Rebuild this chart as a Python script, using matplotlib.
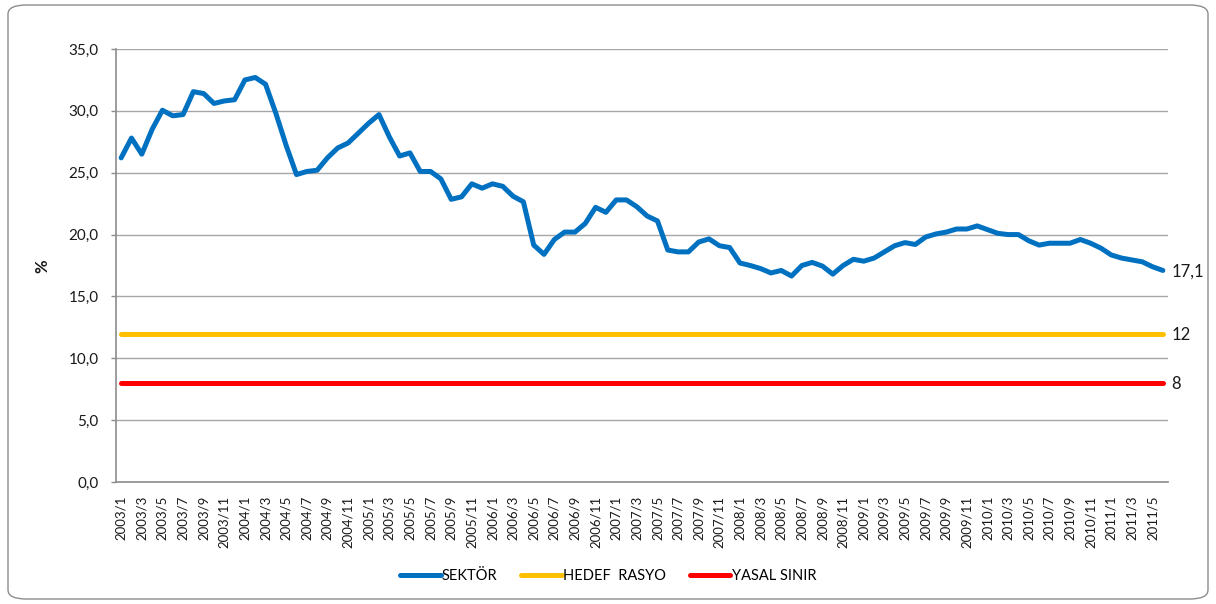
import matplotlib
matplotlib.use("Agg")
import matplotlib.pyplot as plt
from matplotlib.patches import FancyBboxPatch
import numpy as np

plt.rcParams['font.family'] = ['Lato', 'DejaVu Sans']

# Monthly categories 2003/1 .. 2011/6
months = [f"{y}/{m}" for y in range(2003, 2012) for m in range(1, 13)][:102]

sektor = [26.2, 27.8, 26.5, 28.5, 30.05, 29.6, 29.7, 31.55, 31.4, 30.6, 30.8, 30.9,
          32.5, 32.7, 32.15, 29.8, 27.2, 24.85, 25.1, 25.2, 26.2, 27.0, 27.4, 28.2,
          29.0, 29.7, 27.9, 26.35, 26.6, 25.1, 25.1, 24.5, 22.85, 23.05, 24.1, 23.75,
          24.1, 23.9, 23.1, 22.65, 19.15, 18.4, 19.6, 20.2, 20.2, 20.9, 22.2, 21.8,
          22.8, 22.8, 22.25, 21.5, 21.1, 18.75, 18.6, 18.6, 19.4, 19.65, 19.1, 18.95,
          17.7, 17.5, 17.25, 16.9, 17.1, 16.65, 17.5, 17.75, 17.45, 16.8, 17.5, 18.0,
          17.85, 18.1, 18.6, 19.1, 19.35, 19.2, 19.8, 20.05, 20.2, 20.45, 20.45, 20.7,
          20.4, 20.1, 20.0, 20.0, 19.5, 19.15, 19.3, 19.3, 19.3, 19.6, 19.3, 18.9,
          18.35, 18.1, 17.95, 17.8, 17.4, 17.1]
hedef = [12.0] * len(months)
yasal = [8.0] * len(months)

series_names = ["SEKTÖR", "HEDEF  RASYO", "YASAL SINIR"]
end_labels = ["17,1", "12", "8"]
colors = ["#0070C0", "#FFC000", "#FF0000"]

yticks = [0, 5, 10, 15, 20, 25, 30, 35]

fig = plt.figure(figsize=(12.16, 6.04), dpi=100)

# rounded chart border
border = FancyBboxPatch((8 / 1216, 5 / 604), 1200 / 1216, 594 / 604,
                        boxstyle="round,pad=0,rounding_size=0.015",
                        transform=fig.transFigure, facecolor="none",
                        edgecolor="#8C8C8C", linewidth=1.0, zorder=-5)
fig.patches.append(border)

ax = fig.add_axes([116 / 1216, 1 - 482 / 604, (1168 - 116) / 1216, (482 - 49) / 604])
ax.set_facecolor("none")
x = np.arange(len(months))

for vals, name, col in zip([sektor, hedef, yasal], series_names, colors):
    ax.plot(x, vals, color=col, lw=3.6, label=name, solid_capstyle="round",
            solid_joinstyle="round", zorder=3)

for vals, lab in zip([sektor, hedef, yasal], end_labels):
    ax.annotate(lab, xy=(x[-1], vals[-1]), xytext=(6, -1), textcoords="offset points",
                va="center", ha="left", fontsize=12, color="#1A1A1A",
                annotation_clip=False)

ax.set_xlim(-0.5, len(months) - 0.5)
ax.set_ylim(0, 35)
ax.set_yticks(yticks)
ax.set_yticklabels([f"{v:.1f}".replace(".", ",") for v in yticks], fontsize=11,
                   color="#1A1A1A")
ax.set_xticks(x[::2])
ax.set_xticklabels(months[::2], rotation=90, fontsize=9.5, color="#1A1A1A")
ax.tick_params(axis="x", length=0, pad=10)
ax.tick_params(axis="y", length=3.5, width=1, color="#8C8C8C", pad=9)

ax.grid(axis="y", color="#A6A6A6", lw=1.0, zorder=1)
ax.set_axisbelow(True)
for s in ["top", "right"]:
    ax.spines[s].set_visible(False)
for s in ["left", "bottom"]:
    ax.spines[s].set_color("#8C8C8C")
    ax.spines[s].set_linewidth(1.2)

fig.text(42 / 1216, 1 - 266 / 604, "%", rotation=90, ha="center", va="center",
         fontsize=12, fontweight="bold", color="#1A1A1A")

handles, labels = ax.get_legend_handles_labels()
fig.legend(handles, labels, loc="center", bbox_to_anchor=(0.5, 1 - 576 / 604),
           ncol=3, frameon=False, fontsize=10.5, handlelength=2.8,
           handletextpad=0.1, columnspacing=1.6)

fig.savefig("out.png", dpi=100)
